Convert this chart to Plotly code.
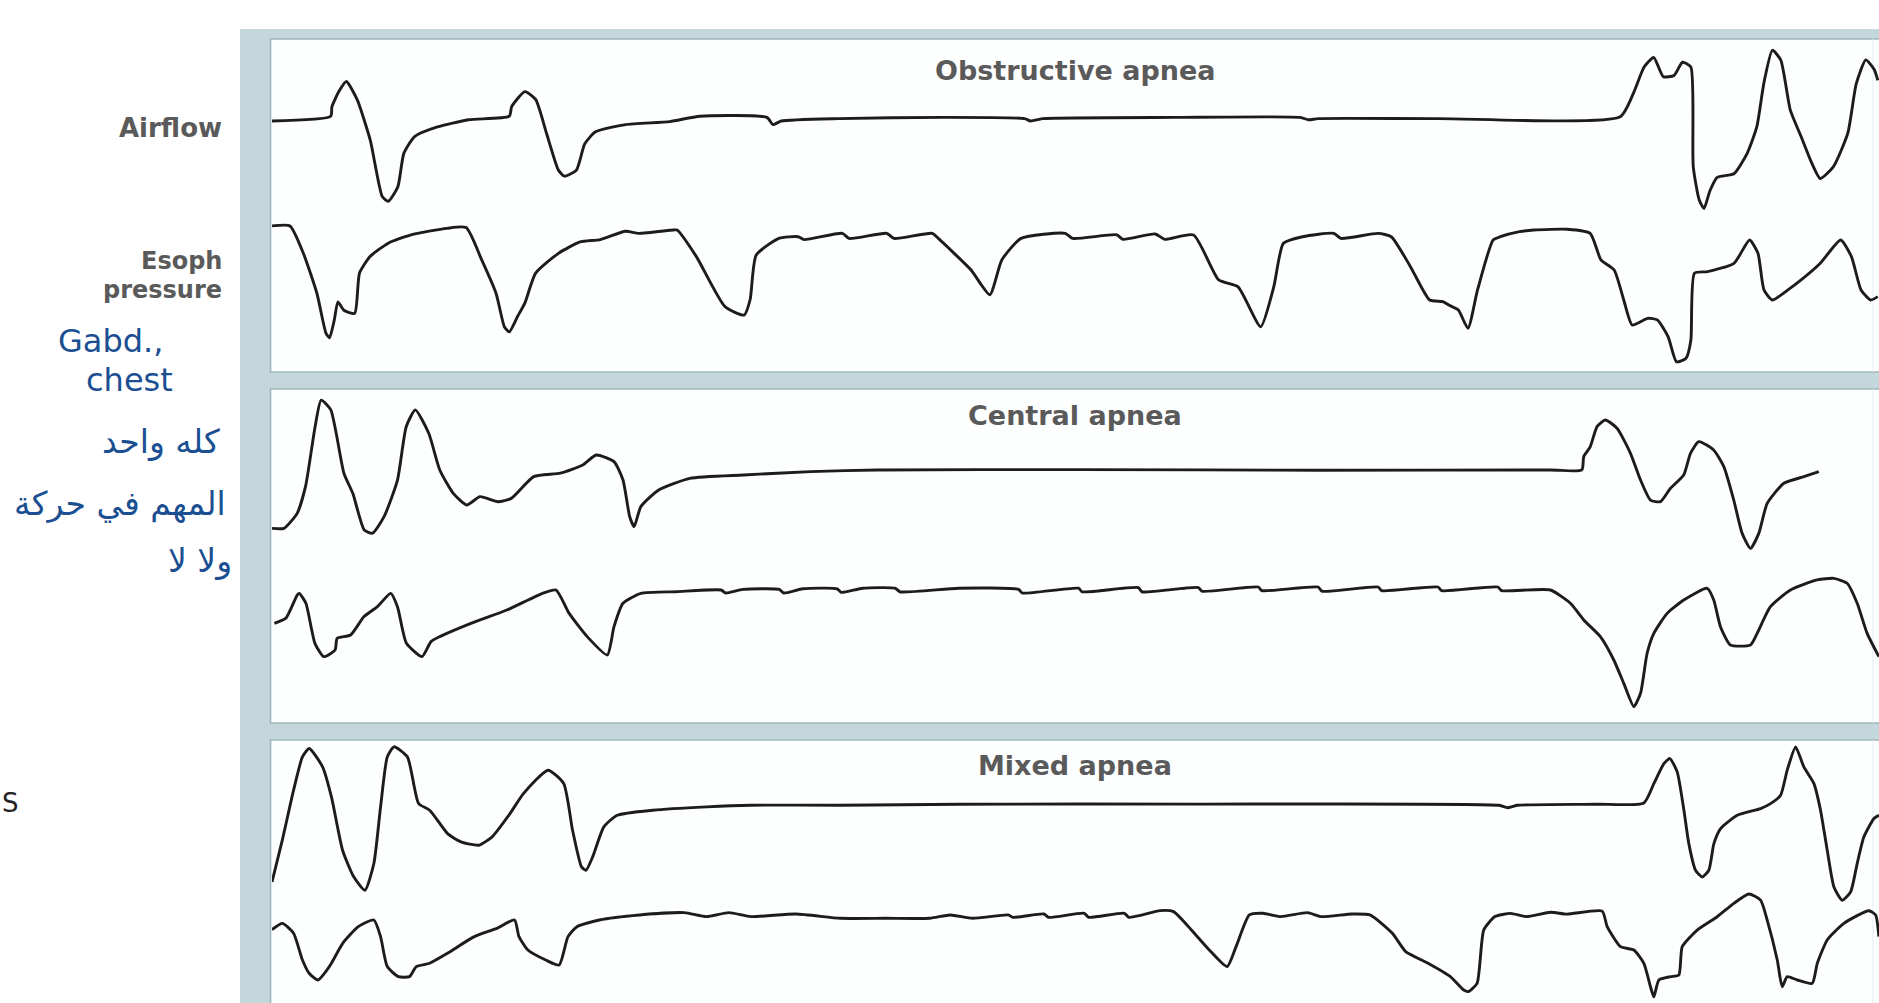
import plotly.graph_objects as go

# ---------------- DATA (sample index t, deflection a) ----------------
obs_air_t = [0, 49, 50, 56, 62, 71, 82, 92, 97, 105, 110, 119, 138, 164, 198, 200, 211, 220, 229, 239,
             244, 254, 261, 270, 295, 332, 357, 413, 418, 425, 473, 560, 628, 633, 643, 753, 858, 865, 873, 973,
             1125, 1136, 1145, 1153, 1161, 1170, 1177, 1184, 1186, 1191, 1195, 1200, 1206, 1220, 1231, 1239, 1245,
             1252, 1259, 1267, 1276, 1284, 1292, 1303, 1315, 1322, 1330, 1337, 1340]
obs_air_a = [-1, 3, 11, 24, 32, 17, -17, -64, -68, -56, -28, -14, -6, 0, 3, 11, 23.5, 17, -11, -42,
             -47, -42, -20, -10, -4, -1.5, 3, 2, -4, -1, 1, 2, 1, -1, 1, 2, 2, 0, 1, 1,
             2.5, 22, 44, 52, 36, 37, 48, 44, -39, -67, -74, -59, -48, -45, -28, -6, 31,
             58, 50, 8, -14, -34, -49, -39, -11, 30, 50, 42, 33]

obs_eso_t = [0, 15, 26, 37.5, 45, 48, 52, 55, 60, 69, 73, 82, 97, 116, 146, 162, 175, 187, 194, 198,
             205, 211, 220, 239, 257, 274, 295, 306, 335, 338, 354, 378, 394, 399, 404, 423, 439, 444, 476, 481.5,
             513, 519, 551, 556, 583, 599, 609, 625, 662, 668, 705, 710, 737, 745, 769, 790, 806, 825, 836, 844,
             860, 886, 892, 923, 934, 950, 966, 977, 982, 990, 998, 1006, 1019, 1025, 1041, 1053, 1081, 1100, 1109, 1120,
             1128, 1135, 1148, 1156, 1165, 1172, 1180, 1184, 1187, 1198, 1220, 1233, 1240, 1245, 1252, 1265, 1276, 1292,
             1309, 1318, 1326, 1334, 1340]
obs_eso_a = [1.4, 1.4, -21, -55, -88, -92, -77, -62, -69, -71.5, -38, -24, -13, -6, -0.6, 0, -27, -55, -83, -87,
             -74, -63, -38, -21.5, -12, -10, -3, -4.8, -2, -2, -24, -66, -73, -60, -23, -9, -7.6, -10, -4.8, -9,
             -4.8, -9, -4.8, -9, -35, -56, -27, -9, -4.8, -9, -6, -9.8, -5.3, -9.8, -6.2, -43.7, -49.3, -82.7, -49.3, -13.1,
             -7.6, -4.8, -9, -4.8, -7.6, -32.6, -60.4, -61.8, -64.6, -68.8, -84, -52, -10.3, -7.6, -3.4, -2, -1.4, -4.8, -27, -35.4,
             -60.4, -81.3, -75.7, -77, -91, -112, -109, -94, -38, -36.7, -29.8, -10.3, -21.5, -52, -60.4, -52, -43.7, -29.8,
             -10.3, -24.2, -52, -60.4, -57.6]

cen_air_t = [0, 10, 21, 28, 36, 41, 49, 60, 67.5, 77, 84, 93.5, 104.7, 112, 119.6, 130.8, 140, 151.3, 162.5, 173.6,
             188.5, 199.7, 218.4, 240.7, 259.3, 270.5, 285.4, 292.9, 298.5, 302.2, 307.8, 322.7, 348.7, 393.5, 449.4,
             505, 673, 873, 1067, 1093, 1094.6, 1100, 1105.8, 1112.7, 1122.4, 1133.6, 1142, 1150.3, 1158.6, 1167,
             1178, 1183.7, 1190.6, 1203, 1211.5, 1219.8, 1226.8, 1233.7, 1240.7, 1247.7, 1261.6, 1278.3, 1290.8]
cen_air_a = [-48, -48, -35.5, -13, 37, 59, 51, -2, -19, -49.4, -52, -38.3, -7.7, 36.8, 50.8, 31.3, 0.7, -18.8, -28.5, -21.6,
             -25.8, -23, -4.9, -2, 4.9, 13.2, 7.6, -7.7, -38.3, -46.6, -29.9, -16, -6.3, -3.5, -0.7,
             0.7, 1, 0.5, 0.7, 0.7, 11.8, 20, 37, 42.4, 35.5, 14.6, -7.7, -24.4, -25.8, -14.6,
             -3.5, 14.6, 24.3, 17.4, 3.5, -24.4, -52.2, -64.7, -52.2, -27.2, -10.4, -4.9, -0.7]

cen_eso_t = [2, 11.6, 21, 22.7, 28.3, 35.8, 43.2, 52.6, 54.4, 65.6, 76.8, 88, 99, 104.7, 112.2, 125.2, 132.7, 140, 166, 196,
             225.8, 237, 248, 263, 279.8, 285.4, 292.9, 307.8, 337.6, 374.8, 378.6, 393, 423.3, 427, 443, 471.7, 475, 493, 520, 524,
             573, 623, 626, 673, 676, 723, 726, 773, 776, 823, 826, 873, 876, 923, 926, 973, 976, 1023, 1026, 1066.8,
             1083.5, 1094.6, 1108.5, 1119.7, 1128, 1136.4, 1142, 1147.5, 1153.1, 1164.2, 1178.1, 1197.6, 1203.1, 1208.7, 1217,
             1233.7, 1239.3, 1250.4, 1267.1, 1289.4, 1303.3, 1314.4, 1322.8, 1331.1, 1340.9]
cen_eso_a = [-28.3, -24, -4.7, -3.3, -11.6, -45, -56.1, -50.6, -40.8, -38, -22.7, -14.4, -3.3, -14.4, -45, -56.1, -43.6, -39.4, -28.3, -17.2,
             -3.3, -0.5, -20, -39.4, -54.7, -31.1, -11.6, -3.3, -1.9, -0.5, -3, 0, 0, -3, 0.5, 0.5, -2.5, 1, 1, -2,
             1, 0, -3, 1, -2, 1.5, -2, 1.5, -1.5, 2, -1, 2, -1.5, 2, -1, 2, -1, 2, -1, -0.5,
             -11.6, -25.5, -39.4, -58.9, -78.4, -97.9, -86.7, -53.3, -36.7, -20, -8.8, 0.9, -8.8, -31.1, -46.4,
             -46.4, -36.7, -14.4, -0.5, 7.9, 9.2, 5.1, -11.6, -36.7, -56.1]

mix_air_t = [0, 8.6, 18, 25.4, 31, 42.2, 49.6, 58.9, 68.2, 77.6, 85, 90.6, 96.2, 101.8, 113, 122.3, 131.6, 146.5, 157.7, 172.6,
             183.7, 198.6, 209.8, 230.3, 243.4, 250.8, 258.3, 262, 267.6, 276.9, 288.1, 317.9, 362.6, 399.8, 474.4, 574.2, 773,
             1024, 1031, 1039, 1105.8, 1144.8, 1153.1, 1161.5, 1166.5, 1172.6, 1178.2, 1182.3, 1187.9, 1193.5,
             1199, 1203.2, 1208.8, 1222.7, 1242.2, 1250.5, 1258.9, 1264.4, 1271.4, 1278.3,
             1286.7, 1292.2, 1297.8, 1303.4, 1310.3, 1317.3, 1322.8, 1328.4, 1336.8, 1341]
mix_air_a = [-64, -29.1, 12.6, 40.4, 47.4, 32.1, 7, -37.5, -59.7, -70.9, -48.6, -1.3, 40.4, 48.8, 40.4, 1.5, -4.1, -23.6, -30.5, -33.3,
             -26.3, -6.9, 9.8, 29.3, 18.2, -20.8, -51.4, -54.2, -43, -18, -8.3, -4.1, -1.3, 0.1, 0.1, 0.9, 1,
             0, -2, 0, 0.9, 2, 18.1, 34.8, 39, 27.9, -4.1, -32, -54.2, -59.8,
             -54.2, -32, -19.4, -8.3, -2.7, 1.4, 8.4, 29.3, 48.7, 32,
             18.1, -4.1, -37.5, -68.1, -79.2, -72.3, -48.6, -26.3, -11, -8.3]

mix_eso_t = [0, 8.6, 18, 25.4, 31, 38.4, 45.9, 49.6, 59, 72, 85, 90.6, 96.2, 105.5, 114.8, 120.4, 131.6, 146.5, 168.8, 187.5,
             202.4, 206.1, 213.5, 228.4, 239.6, 247, 254.5, 273.2, 306.7, 344, 362.6, 381.2, 399.8, 437.1, 474.4, 511.6, 548.9, 566,
             584.6, 614.4, 618.2, 644.2, 648, 677.8, 681.5, 711.3, 715, 741.1, 752.3, 767.2, 782.1, 797, 804.5, 815.6, 826.8,
             841.7, 864, 875.2, 901.3, 916.2, 934.9, 946, 964.7, 983.3, 994.5, 998.2, 1005.6, 1011.2, 1020.5, 1033.5,
             1046.6, 1066.9, 1080.5, 1110, 1114.2, 1125.3, 1136.4, 1144.8, 1150.3, 1153.1, 1157.3, 1167, 1174, 1176.8, 1189.3,
             1206, 1219.9, 1232.4, 1242.2, 1247.7, 1256.1, 1260.2, 1264.4, 1272.8, 1285.3, 1289.5, 1297.8, 1311.7, 1332.6,
             1338.2, 1340.9]
mix_eso_a = [-14, -8.7, -17, -39.3, -50.4, -56, -47.6, -42, -25.4, -11.5, -5.9, -19.8, -44.8, -53.2, -53.2, -44.8, -42, -33.7, -19.8, -12.9,
             -5.9, -19.8, -31, -39.3, -43.5, -19.8, -11.5, -5.9, -1.7, 0.2, -3.1, 0.2, -3.1, -0.9, -4.5, -4.5, -4.5, -1.7,
             -4.5, -1.7, -3.7, -0.9, -3.7, -0.3, -3.7, -0.3, -3.7, 1.9, 1.1, -14.2, -30.9, -44.8, -28.1, -1.7, -0.3,
             -3.1, 0.2, -3.1, -0.9, -1.7, -17, -32.3, -42, -53.2, -64.4, -65.7, -58.8, -14.2, -3.1, -0.4,
             -3.1, 0.5, -1, 1.5, -11.5, -28.2, -31, -42.1, -61.6, -70, -56, -53.2, -51.8, -28.2, -14.3,
             -3.2, 8, 15.8, 10.7, -6, -39.3, -61.6, -53.2, -56, -58.8, -42.1, -22.6, -8.7, 1.8,
             -1.8, -19.8]

panel_titles = ["Obstructive apnea", "Central apnea", "Mixed apnea"]
signal_labels = ["Airflow", "Esoph", "pressure"]
notes_en = ["Gabd.,", "chest"]
notes_ar = ["كله واحد", "المهم في حركة", "ولا لا"]

# ---------------- LAYOUT GEOMETRY (pixels) ----------------
W, H = 1879, 1003
X_LEFT = 272
T_MAX = 1341
UNIT = (W - X_LEFT) / T_MAX           # px per data unit (both axes)
PANELS = [(39, 372), (389, 723), (740, 1003)]
BASELINES = [(119.8, 227.6), (470.8, 589.4), (805.3, 912.9)]

def px(x):
    return x / W

def py(y):
    return 1 - y / H

traces = [(obs_air_t, obs_air_a), (obs_eso_t, obs_eso_a),
          (cen_air_t, cen_air_a), (cen_eso_t, cen_eso_a),
          (mix_air_t, mix_air_a), (mix_eso_t, mix_eso_a)]

fig = go.Figure()
layout_axes = {}
for k, (t, a) in enumerate(traces):
    p = k // 2
    top, bot = PANELS[p]
    b = BASELINES[p][k % 2]
    name = "y" if k == 0 else f"y{k+1}"
    lname = "yaxis" if k == 0 else f"yaxis{k+1}"
    fig.add_trace(go.Scatter(x=t, y=a, mode="lines", xaxis="x", yaxis=name,
                             line=dict(color="#1c1c1c", width=2.9, shape="spline", smoothing=0.55),
                             hoverinfo="skip", showlegend=False))
    layout_axes[lname] = dict(domain=[py(bot), py(top)],
                              range=[-(bot - b) / UNIT, (b - top) / UNIT],
                              visible=False, fixedrange=True, anchor="x")

FRAME = "#c4d8dc"
shapes = [
    dict(type="rect", xref="paper", yref="paper", x0=px(240), x1=px(W + 5), y0=py(H + 5), y1=py(29),
         fillcolor=FRAME, line=dict(width=0), layer="below"),
]
for top, bot in PANELS:
    shapes.append(dict(type="rect", xref="paper", yref="paper", x0=px(270.5), x1=px(W + 5),
                       y0=py(bot + (10 if bot >= H else 0)), y1=py(top),
                       fillcolor="#fdfefe", line=dict(color="#9fb6bb", width=1.6), layer="below"))
    shapes.append(dict(type="line", xref="paper", yref="paper", x0=px(1873), x1=px(1873),
                       y0=py(bot), y1=py(top), line=dict(color="#e2edef", width=1), layer="below"))

annotations = []
title_y = [70, 415, 765]
for txt, yy in zip(panel_titles, title_y):
    annotations.append(dict(text=txt, x=px(1075), y=py(yy), xref="paper", yref="paper",
                            showarrow=False, xanchor="center", yanchor="middle",
                            font=dict(family="DejaVu Sans", size=27, color="#5a5a5a", weight="bold")))
for txt, yy, sz in zip(signal_labels, [128, 261, 290], [26, 24, 24]):
    annotations.append(dict(text=txt, x=px(224), y=py(yy), xref="paper", yref="paper",
                            showarrow=False, xanchor="right", yanchor="middle",
                            font=dict(family="DejaVu Sans", size=sz, color="#5a5a5a", weight="bold")))
BLUE = "#1b4f92"
for txt, xx, yy in zip(notes_en, [110, 129], [341, 380]):
    annotations.append(dict(text=txt, x=px(xx), y=py(yy), xref="paper", yref="paper",
                            showarrow=False, xanchor="center", yanchor="middle",
                            font=dict(family="DejaVu Sans", size=32, color=BLUE)))
for txt, xx, yy in zip(notes_ar, [222, 228, 234], [442, 503, 560]):
    annotations.append(dict(text=txt, x=px(xx), y=py(yy), xref="paper", yref="paper",
                            showarrow=False, xanchor="right", yanchor="middle",
                            font=dict(family="DejaVu Sans", size=33, color=BLUE)))
annotations.append(dict(text="S", x=0, y=py(803), xref="paper", yref="paper", showarrow=False,
                        xanchor="left", yanchor="middle", xshift=0,
                        font=dict(family="DejaVu Sans", size=26, color="#222222")))

fig.update_layout(
    width=W, height=H, margin=dict(l=0, r=0, t=0, b=0),
    paper_bgcolor="white", plot_bgcolor="rgba(0,0,0,0)",
    xaxis=dict(domain=[px(X_LEFT), 1], range=[0, T_MAX], visible=False, fixedrange=True, anchor="y"),
    shapes=shapes, annotations=annotations, **layout_axes,
)

fig.write_html("out.html", config={"displayModeBar": False},
               post_script="document.body.style.margin='0';document.body.style.overflow='hidden';")
